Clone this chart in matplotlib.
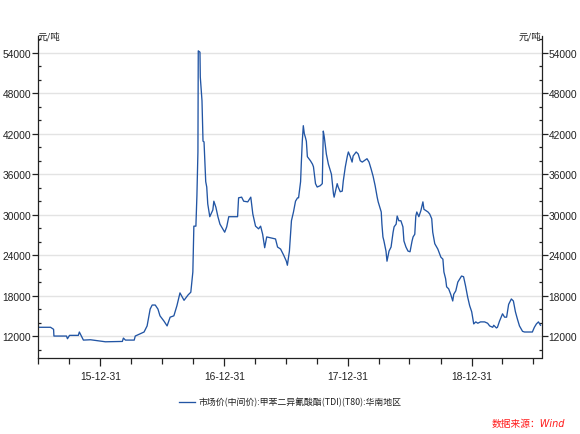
import matplotlib
matplotlib.use("Agg")
import matplotlib.pyplot as plt
import matplotlib.dates as mdates
from matplotlib.ticker import MultipleLocator, FuncFormatter
import pandas as pd

dates = [
    "2015-06-30", "2015-08-06", "2015-08-15", "2015-08-16", "2015-09-22", "2015-09-25",
    "2015-10-01", "2015-10-27", "2015-10-30", "2015-11-11", "2015-12-02", "2016-01-15",
    "2016-03-05", "2016-03-08", "2016-03-14", "2016-04-09", "2016-04-12", "2016-05-08",
    "2016-05-17", "2016-05-26", "2016-06-01", "2016-06-10", "2016-06-18", "2016-06-24",
    "2016-07-06", "2016-07-15", "2016-07-24", "2016-08-04", "2016-08-13", "2016-08-22",
    "2016-09-03", "2016-09-15", "2016-09-23", "2016-09-29", "2016-10-02", "2016-10-08",
    "2016-10-11", "2016-10-14", "2016-10-15", "2016-10-20", "2016-10-21", "2016-10-26",
    "2016-10-29", "2016-11-01", "2016-11-06", "2016-11-09", "2016-11-12", "2016-11-18",
    "2016-11-27", "2016-11-30", "2016-12-06", "2016-12-12", "2016-12-18", "2016-12-26",
    "2017-01-01", "2017-01-07", "2017-01-13", "2017-02-08", "2017-02-11", "2017-02-20",
    "2017-02-26", "2017-03-10", "2017-03-19", "2017-03-25", "2017-04-02", "2017-04-11",
    "2017-04-17", "2017-04-23", "2017-04-29", "2017-05-05", "2017-05-31", "2017-06-06",
    "2017-06-15", "2017-06-24", "2017-07-02", "2017-07-05", "2017-07-11", "2017-07-17",
    "2017-07-23", "2017-07-29", "2017-08-04", "2017-08-07", "2017-08-13", "2017-08-15",
    "2017-08-18", "2017-08-21", "2017-08-24", "2017-08-27", "2017-08-30", "2017-09-02",
    "2017-09-11", "2017-09-17", "2017-09-20", "2017-09-26", "2017-10-01", "2017-10-10",
    "2017-10-16", "2017-10-19", "2017-10-22", "2017-10-28", "2017-11-03", "2017-11-12",
    "2017-11-18", "2017-11-20", "2017-11-29", "2017-12-02", "2017-12-08", "2017-12-14",
    "2017-12-17", "2017-12-23", "2017-12-29", "2018-01-01", "2018-01-06", "2018-01-12",
    "2018-01-15", "2018-01-24", "2018-01-30", "2018-02-05", "2018-02-11", "2018-02-25",
    "2018-03-03", "2018-03-09", "2018-03-15", "2018-03-21", "2018-03-27", "2018-03-30",
    "2018-04-08", "2018-04-10", "2018-04-13", "2018-04-16", "2018-04-22", "2018-04-25",
    "2018-05-01", "2018-05-07", "2018-05-13", "2018-05-16", "2018-05-22", "2018-05-25",
    "2018-05-30", "2018-06-05", "2018-06-11", "2018-06-14", "2018-06-20", "2018-06-26",
    "2018-07-02", "2018-07-08", "2018-07-11", "2018-07-16", "2018-07-19", "2018-07-22",
    "2018-07-28", "2018-08-03", "2018-08-09", "2018-08-12", "2018-08-18", "2018-08-24",
    "2018-08-29", "2018-09-04", "2018-09-07", "2018-09-13", "2018-09-22", "2018-10-01",
    "2018-10-07", "2018-10-10", "2018-10-15", "2018-10-18", "2018-10-24", "2018-10-30",
    "2018-11-05", "2018-11-08", "2018-11-14", "2018-11-20", "2018-11-26", "2018-12-01",
    "2018-12-07", "2018-12-13", "2018-12-19", "2018-12-25", "2018-12-31", "2019-01-06",
    "2019-01-12", "2019-01-18", "2019-01-26", "2019-02-07", "2019-02-16", "2019-02-22",
    "2019-03-03", "2019-03-06", "2019-03-14", "2019-03-17", "2019-03-23", "2019-04-01",
    "2019-04-07", "2019-04-13", "2019-04-19", "2019-04-27", "2019-05-03", "2019-05-09",
    "2019-05-15", "2019-05-21", "2019-05-30", "2019-06-05", "2019-06-28", "2019-07-04",
    "2019-07-10", "2019-07-16", "2019-07-22",
]

prices = [
    13300, 13300, 13000, 12000, 12000, 11600,
    12100, 12100, 12600, 11400, 11450, 11150,
    11200, 11700, 11400, 11400, 12000, 12600,
    13500, 16000, 16600, 16600, 16000, 15000,
    14200, 13500, 14800, 15000, 16500, 18400,
    17300, 18100, 18500, 21500, 28300, 28300,
    32800, 39300, 54300, 54100, 50400, 46900,
    40900, 40800, 34900, 34100, 31600, 29700,
    30700, 32000, 31100, 29700, 28600, 27900,
    27400, 28200, 29700, 29700, 32500, 32600,
    32000, 31900, 32600, 30100, 28300, 27900,
    28300, 27100, 25100, 26700, 26400, 25200,
    24900, 24000, 23100, 22500, 24600, 29100,
    30400, 32000, 32500, 32500, 34900, 37500,
    40900, 43200, 42000, 41500, 40900, 38600,
    38000, 37500, 37100, 34600, 34100, 34300,
    34600, 42400, 41500, 39000, 37500, 36000,
    33100, 32600, 34600, 34100, 33400, 33500,
    35000, 37100, 38700, 39300, 38700, 37800,
    38700, 39300, 39000, 38000, 37800, 38300,
    37800, 36800, 35700, 34300, 32600, 31900,
    30400, 28600, 26700, 26100, 24600, 23100,
    24600, 25200, 27400, 28200, 28600, 29800,
    29100, 29100, 28200, 26100, 25200, 24600,
    24500, 26100, 26700, 27100, 29800, 30400,
    29700, 30600, 31900, 30800, 30600, 30400,
    30100, 29400, 27400, 25700, 24900, 23700,
    23400, 21500, 20500, 19300, 19000, 18200,
    17200, 18200, 18700, 20000, 20500, 20900,
    20800, 19400, 17800, 16500, 15600, 13800,
    14100, 13900, 14100, 14100, 13900, 13500,
    13300, 13600, 13200, 13300, 14200, 15300,
    14800, 14800, 16700, 17500, 17200, 15600,
    14500, 13500, 12700, 12600, 12600, 13300,
    13800, 14100, 13600,
]

series_label = "市场价(中间价):甲苯二异氰酸酯(TDI)(T80):华南地区"
unit_label = "元/吨"
source_label = "数据来源：Wind"

NUM_FONT = ["Liberation Sans Narrow", "Liberation Sans", "Noto Sans CJK SC"]
CJK_FONT = ["Noto Sans CJK SC", "DejaVu Sans"]
plt.rcParams["font.family"] = NUM_FONT

x = pd.to_datetime(dates)

fig = plt.figure(figsize=(5.8, 4.35), dpi=100)
ax = fig.add_axes([38 / 580, 1 - 359.3 / 435, (541.5 - 38) / 580, (359.3 - 37) / 435])

line, = ax.plot(x, prices, color="#2255a4", lw=0.95, label=series_label)

ax.set_xlim(pd.Timestamp("2015-06-30"), pd.Timestamp("2019-07-25"))
ax.set_ylim(8700, 56500)

ax.yaxis.set_major_locator(MultipleLocator(6000))
ax.yaxis.set_minor_locator(MultipleLocator(2000))
ax.yaxis.set_major_formatter(FuncFormatter(lambda v, p: f"{int(v)}"))

ax.xaxis.set_major_locator(mdates.MonthLocator(bymonth=12, bymonthday=31))
ax.xaxis.set_minor_locator(mdates.RRuleLocator(
    mdates.rrulewrapper(mdates.MONTHLY, bymonth=(3, 6, 9, 12), bymonthday=-1)))
ax.xaxis.set_major_formatter(mdates.DateFormatter("%y-%m-%d"))

ax.grid(axis="y", which="major", color="#e3e3e3", lw=1.0)
ax.set_axisbelow(True)

for s in ("left", "right", "bottom"):
    ax.spines[s].set_color("#222222")
    ax.spines[s].set_linewidth(0.9)
ax.spines["top"].set_visible(False)

ax.tick_params(axis="y", which="major", direction="out", length=4, width=0.9,
               left=True, right=True, labelleft=True, labelright=True,
               labelsize=7.4, pad=1, colors="#222222")
ax.tick_params(axis="y", which="minor", direction="in", length=2, width=0.9,
               left=True, right=True, colors="#222222")
ax.tick_params(axis="x", which="major", direction="out", length=6, width=0.9,
               labelsize=7.4, pad=3, colors="#222222")
ax.tick_params(axis="x", which="minor", direction="out", length=4, width=0.9,
               colors="#222222")

ax.text(0.0, 1.0, unit_label, transform=ax.transAxes, ha="left", va="center",
        fontsize=6.8, family=CJK_FONT, color="#222222")
ax.text(1.0, 1.0, unit_label, transform=ax.transAxes, ha="right", va="center",
        fontsize=6.8, family=CJK_FONT, color="#222222")

leg = fig.legend(handles=[line], loc="center", bbox_to_anchor=(290 / 580, 1 - 403 / 435),
                 frameon=False, handlelength=1.8, handletextpad=0.4,
                 prop={"family": NUM_FONT[:1] + CJK_FONT, "size": 6.4})
for t in leg.get_texts():
    t.set_color("#222222")

fig.text(565 / 580, 1 - 424 / 435, source_label, ha="right", va="center",
         fontsize=7, style="italic", color="#ff1a1a",
         family=["DejaVu Sans", "Noto Sans CJK SC"])

fig.savefig("out.png", dpi=100, facecolor="white")
